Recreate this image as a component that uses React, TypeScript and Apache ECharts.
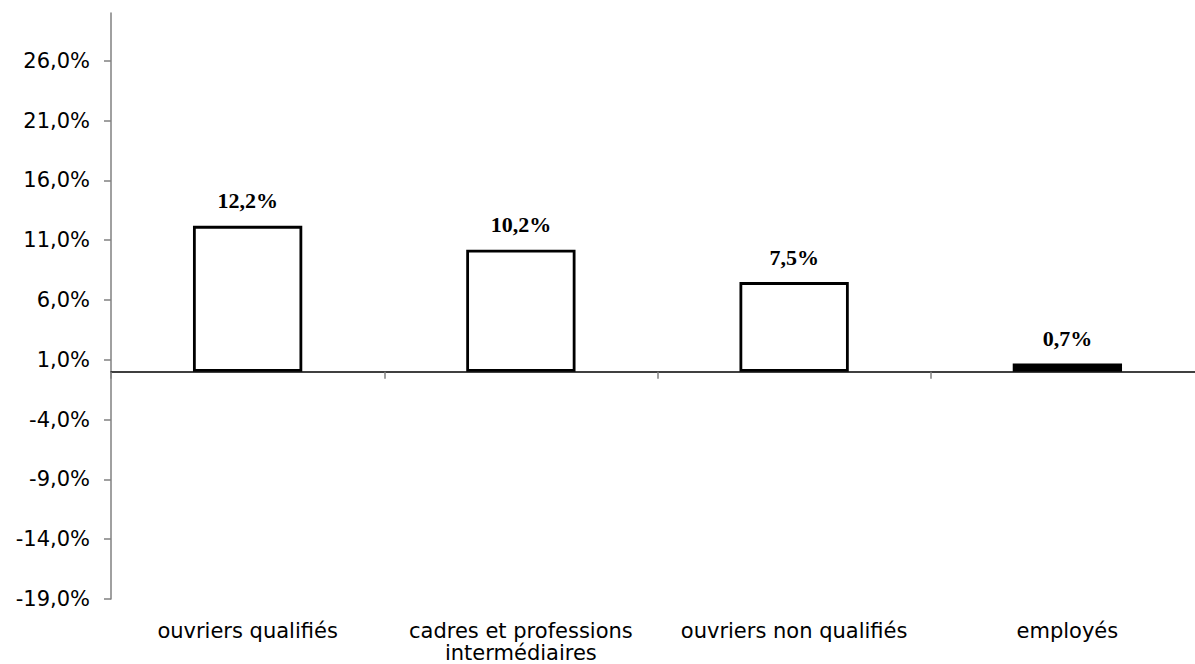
import React, { useEffect, useRef } from "react";
import * as echarts from "echarts";

const categories = [
  "ouvriers qualifiés",
  "cadres et professions\nintermédiaires",
  "ouvriers non qualifiés",
  "employés",
];
const values = [12.2, 10.2, 7.5, 0.7];
const barFills = ["#ffffff", "#ffffff", "#ffffff", "#000000"];
const yTicks = [-19, -14, -9, -4, 1, 6, 11, 16, 21, 26];
const yMin = -19;
const yMax = 30;

const fmt = (v: number) => v.toFixed(1).replace(".", ",") + "%";

export default function App() {
  const ref = useRef<HTMLDivElement>(null);
  useEffect(() => {
    if (!ref.current) return;
    const chart = echarts.init(ref.current, null, { renderer: "svg" });
    chart.setOption({
      animation: false,
      backgroundColor: "#ffffff",
      grid: { left: 111, top: 13, right: 6, bottom: 64.7, containLabel: false },
      xAxis: [
        {
          type: "category",
          data: categories,
          axisLine: { show: true, onZero: true, lineStyle: { color: "#000000", width: 1.5 } },
          axisTick: { show: true, length: 7, lineStyle: { color: "#808080", width: 1.5 } },
          axisLabel: { show: false },
          splitLine: { show: false },
        },
        {
          type: "category",
          data: categories,
          position: "bottom",
          axisLine: { show: false, onZero: false },
          axisTick: { show: false },
          axisLabel: {
            show: true,
            interval: 0,
            margin: 21,
            fontFamily: "DejaVu Sans",
            fontSize: 21,
            lineHeight: 22,
            color: "#000000",
          },
          splitLine: { show: false },
        },
      ],
      yAxis: {
        type: "value",
        min: yMin,
        max: yMax,
        interval: 5,
        axisLine: { show: true, lineStyle: { color: "#808080", width: 1.5 } },
        axisTick: {
          show: true,
          length: 7,
          customValues: yTicks,
          lineStyle: { color: "#808080", width: 1.5 },
        },
        axisLabel: {
          show: true,
          customValues: yTicks,
          margin: 21,
          fontFamily: "DejaVu Sans",
          fontSize: 21,
          color: "#000000",
          formatter: (v: number) => fmt(v),
        },
        splitLine: { show: false },
      },
      series: [
        {
          type: "bar",
          xAxisIndex: 0,
          barWidth: "40%",
          data: values.map((v, i) => ({
            value: v,
            itemStyle: { color: barFills[i], borderColor: "#000000", borderWidth: 2.8 },
          })),
          label: {
            show: true,
            position: "top",
            distance: 14,
            fontFamily: "Liberation Serif",
            fontWeight: "bold",
            fontSize: 22,
            color: "#000000",
            formatter: (p: any) => fmt(p.value),
          },
        },
      ],
    });
    return () => chart.dispose();
  }, []);
  return (
    <div
      style={{
        position: "fixed",
        left: 0,
        top: 0,
        width: 1195,
        height: 664,
        overflow: "hidden",
        background: "#ffffff",
      }}
    >
      <div ref={ref} style={{ width: 1210, height: 664 }} />
    </div>
  );
}
